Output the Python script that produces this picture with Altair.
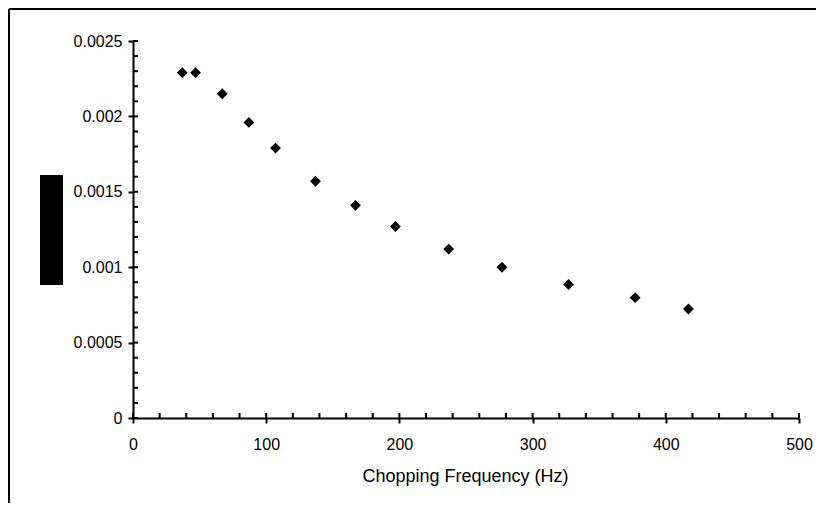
import altair as alt
import pandas as pd

# Data
freq_hz = [37, 47, 67, 87, 107, 137, 167, 197, 237, 277, 327, 377, 417]
signal = [0.00229, 0.00229, 0.00215, 0.00196, 0.00179, 0.00157, 0.00141,
          0.00127, 0.00112, 0.00100, 0.000885, 0.000798, 0.000723]

x_major = [0, 100, 200, 300, 400, 500]
y_major = [0, 0.0005, 0.001, 0.0015, 0.002, 0.0025]
x_minor = [i * 20 for i in range(26)]
y_minor = [round(i * 0.0001, 4) for i in range(26)]

X_TITLE = "Chopping Frequency (Hz)"
FONT = "Liberation Sans"

W, H = 666, 377

x_scale = alt.Scale(domain=[0, 500], nice=False, zero=False)
y_scale = alt.Scale(domain=[0, 0.0025], nice=False, zero=False)

x_axis = alt.Axis(values=x_major, format="d", tickSize=5, tickWidth=2,
                  tickColor="black", domainColor="black", domainWidth=2,
                  labelFont=FONT, labelFontSize=16, labelColor="black",
                  labelPadding=13, labelFlush=False, labelOverlap=False,
                  grid=False,
                  titleFont=FONT, titleFontSize=18, titleFontWeight="normal",
                  titleColor="black", titleY=49, titleX=332)
y_axis = alt.Axis(values=y_major, format="~g", tickSize=5, tickWidth=2,
                  tickColor="black", domainColor="black", domainWidth=2,
                  labelFont=FONT, labelFontSize=16, labelColor="black",
                  labelPadding=6, labelFlush=False, labelOverlap=False,
                  grid=False)


def X(field):
    return alt.X(f"{field}:Q", scale=x_scale, axis=x_axis, title=X_TITLE)


def Y(field):
    return alt.Y(f"{field}:Q", scale=y_scale, axis=y_axis, title=None)


pts_df = pd.DataFrame({"x": freq_hz, "y": signal})
points = alt.Chart(pts_df).mark_point(
    shape="diamond", filled=True, size=118, color="black", opacity=1
).encode(x=X("x"), y=Y("y"))

xt_df = pd.DataFrame({"x": x_minor})
x_ticks = alt.Chart(xt_df).mark_rule(color="black", strokeWidth=2).encode(
    x=X("x"), y=alt.value(H), y2=alt.value(H - 5)
)

yt_df = pd.DataFrame({"y": y_minor})
y_ticks = alt.Chart(yt_df).mark_rule(color="black", strokeWidth=2).encode(
    y=Y("y"), x=alt.value(0), x2=alt.value(5)
)

# black block where the y-axis title sits in the reference
one = pd.DataFrame({"k": [0]})
block = alt.Chart(one).mark_rect(color="black").encode(
    x=alt.value(-93), x2=alt.value(-70), y=alt.value(134), y2=alt.value(244)
)

# outer frame (top and left edges)
frame_top = alt.Chart(one).mark_rule(color="black", strokeWidth=2).encode(
    x=alt.value(-124), x2=alt.value(W + 17), y=alt.value(-32)
)
frame_left = alt.Chart(one).mark_rule(color="black", strokeWidth=2).encode(
    x=alt.value(-124), y=alt.value(-32), y2=alt.value(H + 85)
)

chart = alt.layer(frame_top, frame_left, block, x_ticks, y_ticks, points).properties(
    width=W, height=H,
    autosize=alt.AutoSizeParams(type="none"),
    padding={"left": 125, "top": 33, "right": 17, "bottom": 85},
    background="white",
).configure_view(strokeWidth=0)

chart.save("out.html", embed_options={"renderer": "svg", "actions": False})
